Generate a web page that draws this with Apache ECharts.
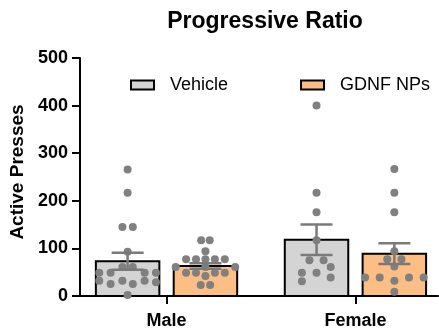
<!DOCTYPE html>
<html>
<head>
<meta charset="utf-8">
<script src="https://cdn.jsdelivr.net/npm/echarts@6/dist/echarts.min.js"></script>
<style>
  html, body { margin: 0; padding: 0; background: #fff; }
  #chart { width: 439px; height: 330px; }
</style>
</head>
<body>
<div id="chart"></div>
<script>
// categories and groups
var categories = ['Male', 'Female']
var groups = ['Vehicle', 'GDNF NPs']

// bar heights (mean) and error (SEM), one per category
var vehicleMean = [73, 118]
var vehicleSem = [18, 32]
var gdnfMean = [63, 89]
var gdnfSem = [6, 22]

// individual animals: [jitter column, active presses]
var maleVehicle = [
  [0, 266], [0, 217], [-1.1, 145], [1.1, 145], [0, 93], [-1.1, 61], [1.1, 61],
  [-6, 49], [-3.6, 49], [3.6, 49], [6, 49],
  [-6, 32], [-3.6, 25], [-1.1, 32], [1.1, 25], [3.6, 32], [6, 29], [0, 2]
]
var maleGdnf = [
  [-0.9, 117], [0.9, 117], [0, 94],
  [-4.1, 77], [-2, 77], [0, 77], [2, 77], [4.1, 77],
  [-6.3, 61], [0, 61], [6.3, 61],
  [-4.1, 49], [-2, 49], [2, 49], [4.1, 49], [0, 42], [-1, 23], [1, 23]
]
var femaleVehicle = [
  [0, 400], [0, 217], [0, 176], [0, 117], [-1.5, 75], [1.5, 75],
  [3, 61], [-3.1, 49], [0, 49], [3, 39], [-3.1, 31]
]
var femaleGdnf = [
  [0, 267], [0, 217], [0, 176], [0, 94], [-1.5, 77], [1.5, 77], [0, 62],
  [-6.2, 39], [-3.1, 39], [3.1, 39], [6.2, 39], [0, 32], [0, 9]
]

var barOffset = 0.206   // half distance between the two bars of a category
var barHalf = 0.168     // half bar width, in axis units
var jitterStep = 0.025  // one jitter column, in axis units
var colors = ['#d4d4d4', '#fdbe85']
var dotColor = '#808080'
var font = 'Liberation Sans, Arial, sans-serif'

function pos(catIndex, groupIndex) {
  return catIndex + 1 + (groupIndex === 0 ? -barOffset : barOffset)
}

function barData(means, sems, g) {
  return means.map(function(m, i) { return [pos(i, g), m, sems[i]] })
}

function dotData(lists, g) {
  var out = []
  lists.forEach(function(list, i) {
    list.forEach(function(p) { out.push([pos(i, g) + p[0] * jitterStep, p[1]]) })
  })
  return out
}

function renderBar(color) {
  return function(params, api) {
    var x = api.value(0)
    var p0 = api.coord([x - barHalf, 0])
    var p1 = api.coord([x + barHalf, api.value(1)])
    return {
      type: 'rect',
      shape: { x: p0[0], y: p1[1], width: p1[0] - p0[0], height: p0[1] - p1[1] },
      style: { fill: color, stroke: '#000', lineWidth: 2 }
    }
  }
}

function renderErr(params, api) {
  var x = api.value(0)
  var m = api.value(1)
  var s = api.value(2)
  var top = api.coord([x, m + s])
  var bot = api.coord([x, m - s])
  var cap = 16
  var st = { stroke: '#7a7a7a', lineWidth: 2.5 }
  return {
    type: 'group',
    children: [
      { type: 'line', shape: { x1: top[0], y1: top[1], x2: bot[0], y2: bot[1] }, style: st },
      { type: 'line', shape: { x1: top[0] - cap, y1: top[1], x2: top[0] + cap, y2: top[1] }, style: st },
      { type: 'line', shape: { x1: bot[0] - cap, y1: bot[1], x2: bot[0] + cap, y2: bot[1] }, style: st }
    ]
  }
}

var vehicleBars = barData(vehicleMean, vehicleSem, 0)
var gdnfBars = barData(gdnfMean, gdnfSem, 1)

var chart = echarts.init(document.getElementById('chart'))
chart.setOption({
  animation: false,
  textStyle: { fontFamily: font },
  title: {
    text: 'Progressive Ratio',
    left: 260,
    textAlign: 'center',
    top: 5,
    textStyle: { fontSize: 23, fontWeight: 'bold', color: '#000', fontFamily: font }
  },
  legend: {
    left: 125,
    top: 71,
    itemWidth: 23,
    itemHeight: 9,
    itemGap: 72,
    textStyle: { fontSize: 18, color: '#000', fontFamily: font, padding: [0, 0, 0, 11] },
    data: [
      { name: groups[0], icon: 'rect', itemStyle: { color: colors[0], borderColor: '#000', borderWidth: 2 } },
      { name: groups[1], icon: 'rect', itemStyle: { color: colors[1], borderColor: '#000', borderWidth: 2 } }
    ]
  },
  grid: { left: 80, right: 1, top: 58, bottom: 33 },
  xAxis: {
    type: 'value',
    min: 0.542,
    max: 2.437,
    splitLine: { show: false },
    axisLine: { show: true, lineStyle: { color: '#000', width: 2 } },
    axisTick: { show: true, customValues: [1, 2], length: 8, lineStyle: { color: '#000', width: 2 } },
    axisLabel: {
      customValues: [1, 2],
      margin: 16,
      fontSize: 18,
      fontWeight: 'bold',
      color: '#000',
      formatter: function(v) { return categories[Math.round(v) - 1] }
    }
  },
  yAxis: {
    type: 'value',
    min: 0,
    max: 500,
    interval: 100,
    name: 'Active Presses',
    nameLocation: 'middle',
    nameGap: 49,
    nameTextStyle: { fontSize: 19, fontWeight: 'bold', color: '#000', fontFamily: font, padding: [0, 0, 0, 10] },
    splitLine: { show: false },
    axisLine: { show: true, lineStyle: { color: '#000', width: 2 } },
    axisTick: { show: true, length: 8, lineStyle: { color: '#000', width: 2 } },
    axisLabel: { margin: 12, fontSize: 18, fontWeight: 'bold', color: '#000' }
  },
  series: [
    {
      name: groups[0],
      type: 'custom',
      itemStyle: { color: colors[0], borderColor: '#000', borderWidth: 2 },
      renderItem: renderBar(colors[0]),
      encode: { x: 0, y: 1 },
      data: vehicleBars,
      z: 1
    },
    {
      name: groups[1],
      type: 'custom',
      itemStyle: { color: colors[1], borderColor: '#000', borderWidth: 2 },
      renderItem: renderBar(colors[1]),
      encode: { x: 0, y: 1 },
      data: gdnfBars,
      z: 1
    },
    {
      name: 'vehicle points',
      type: 'scatter',
      symbolSize: 8,
      itemStyle: { color: dotColor, opacity: 1 },
      data: dotData([maleVehicle, femaleVehicle], 0),
      z: 3
    },
    {
      name: 'gdnf points',
      type: 'scatter',
      symbolSize: 8,
      itemStyle: { color: dotColor, opacity: 1 },
      data: dotData([maleGdnf, femaleGdnf], 1),
      z: 3
    },
    {
      name: 'error',
      type: 'custom',
      renderItem: renderErr,
      encode: { x: 0, y: 1 },
      data: vehicleBars.concat(gdnfBars),
      z: 4
    }
  ]
})
</script>
</body>
</html>
